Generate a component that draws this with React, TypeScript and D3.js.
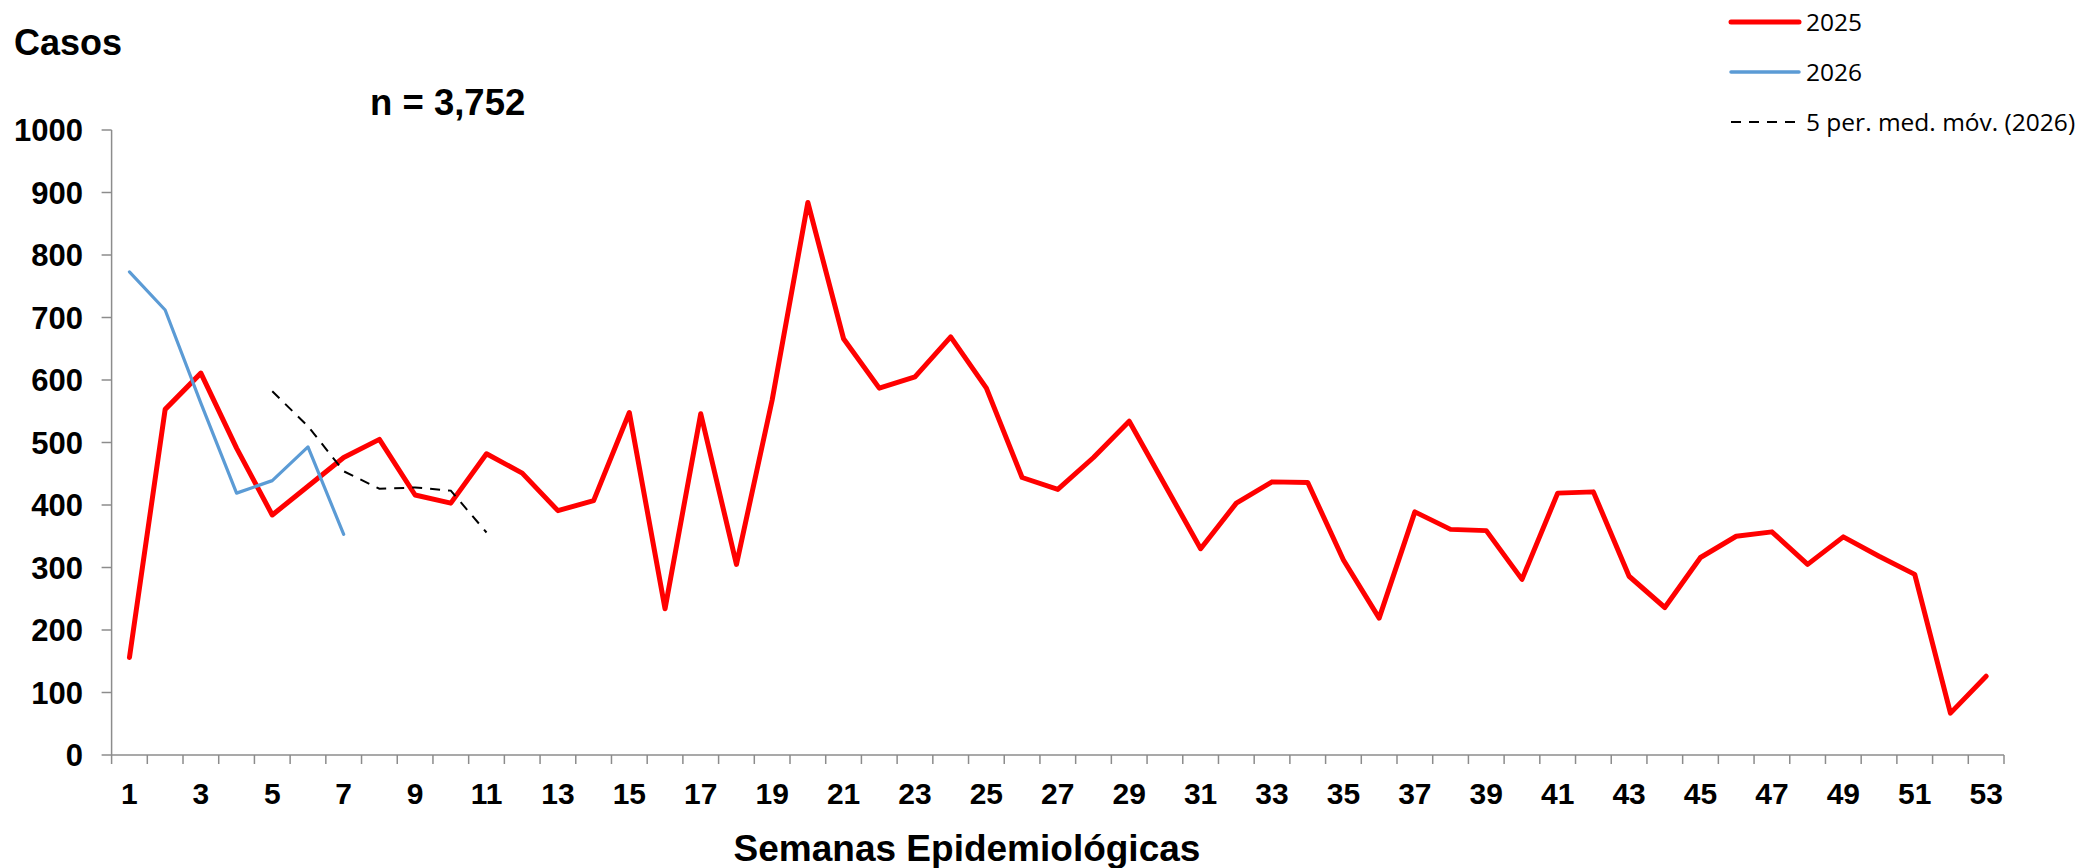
import React from "react";
import * as d3 from "d3";

const weeks: number[] = Array.from({ length: 53 }, (_, i) => i + 1);

const cases2025: number[] = [
  156, 553, 611, 491, 384, 430, 476, 505, 416, 403,
  482, 451, 391, 407, 548, 234, 546, 305, 568, 884,
  666, 587, 605, 669, 587, 444, 425, 476, 534, 432,
  330, 403, 437, 436, 312, 219, 389, 361, 359, 281,
  419, 421, 286, 236, 316, 350, 357, 305, 349, 318,
  289, 67, 126,
];

const weeks2026: number[] = [1, 2, 3, 4, 5, 6, 7];
const cases2026: number[] = [773, 712, 563, 419, 439, 493, 353];

const movAvgWeeks: number[] = [5, 6, 7, 8, 9, 10, 11];
const movAvg2026: number[] = [582, 526, 454, 426, 428, 423, 356];

const yTicks: number[] = [0, 100, 200, 300, 400, 500, 600, 700, 800, 900, 1000];
const xLabelWeeks: number[] = weeks.filter((w) => w % 2 === 1);

const W = 2082;
const H = 868;
const AX_LEFT = 111.6;
const AX_RIGHT = 2004;
const Y0 = 755;
const Y1000 = 130;

const BOLD = "'Liberation Sans', Arial, sans-serif";
const LEG = "'Open Sans', 'Noto Sans', sans-serif";

export default function App() {
  const x = d3.scaleBand<number>().domain(weeks).range([AX_LEFT, AX_RIGHT]).padding(0);
  const y = d3.scaleLinear().domain([0, 1000]).range([Y0, Y1000]);
  const cx = (w: number) => (x(w) as number) + x.bandwidth() / 2;

  const line = d3
    .line<[number, number]>()
    .x((d) => cx(d[0]))
    .y((d) => y(d[1]));

  const p2025 = line(weeks.map((w, i) => [w, cases2025[i]] as [number, number])) || "";
  const p2026 = line(weeks2026.map((w, i) => [w, cases2026[i]] as [number, number])) || "";
  const pAvg = line(movAvgWeeks.map((w, i) => [w, movAvg2026[i]] as [number, number])) || "";

  const tickXs = weeks.map((w) => x(w) as number).concat([AX_RIGHT]);
  const axisColor = "#8c8c8c";

  return (
    <svg
      width={W}
      height={H}
      style={{ position: "absolute", left: 0, top: 0, background: "#fff" }}
    >
      <rect x={0} y={0} width={W} height={H} fill="#fff" />
      {/* Titles */}
      <text x={14} y={55} fontFamily={BOLD} fontWeight="bold" fontSize={36} fill="#000">
        Casos
      </text>
      <text x={370} y={115} fontFamily={BOLD} fontWeight="bold" fontSize={36.5} fill="#000">
        n = 3,752
      </text>

      {/* Y axis */}
      <line x1={AX_LEFT} x2={AX_LEFT} y1={y(1000)} y2={Y0} stroke={axisColor} strokeWidth={1.5} />
      {yTicks.map((t) => (
        <g key={"yt" + t}>
          <line x1={AX_LEFT - 10} x2={AX_LEFT} y1={y(t)} y2={y(t)} stroke={axisColor} strokeWidth={1.5} />
          <text
            x={83}
            y={y(t) + 11}
            textAnchor="end"
            fontFamily={BOLD}
            fontWeight="bold"
            fontSize={31}
            fill="#000"
          >
            {t}
          </text>
        </g>
      ))}

      {/* X axis */}
      <line x1={AX_LEFT} x2={AX_RIGHT} y1={Y0} y2={Y0} stroke={axisColor} strokeWidth={1.5} />
      {tickXs.map((tx, i) => (
        <line key={"xt" + i} x1={tx} x2={tx} y1={Y0} y2={Y0 + 9} stroke={axisColor} strokeWidth={1.5} />
      ))}
      {xLabelWeeks.map((w) => (
        <text
          key={"xl" + w}
          x={cx(w)}
          y={804}
          textAnchor="middle"
          fontFamily={BOLD}
          fontWeight="bold"
          fontSize={30}
          fill="#000"
        >
          {w}
        </text>
      ))}
      <text
        x={967}
        y={861}
        textAnchor="middle"
        fontFamily={BOLD}
        fontWeight="bold"
        fontSize={37}
        fill="#000"
      >
        Semanas Epidemiológicas
      </text>

      {/* Series */}
      <path d={p2025} fill="none" stroke="#ff0000" strokeWidth={5} strokeLinejoin="round" strokeLinecap="round" />
      <path d={p2026} fill="none" stroke="#5b9bd5" strokeWidth={3.2} strokeLinejoin="round" strokeLinecap="round" />
      <path d={pAvg} fill="none" stroke="#000" strokeWidth={2} strokeDasharray="10 8" />

      {/* Legend */}
      <line x1={1731} x2={1799} y1={22} y2={22} stroke="#ff0000" strokeWidth={5} strokeLinecap="round" />
      <text x={1806} y={31} fontFamily={LEG} fontSize={24.5} fill="#000">
        2025
      </text>
      <line x1={1731} x2={1799} y1={72} y2={72} stroke="#5b9bd5" strokeWidth={3.5} strokeLinecap="round" />
      <text x={1806} y={81} fontFamily={LEG} fontSize={24.5} fill="#000">
        2026
      </text>
      <line x1={1731} x2={1797} y1={122} y2={122} stroke="#000" strokeWidth={2} strokeDasharray="10 8" />
      <text x={1806} y={131} fontFamily={LEG} fontSize={24.5} fill="#000">
        5 per. med. móv. (2026)
      </text>
    </svg>
  );
}
